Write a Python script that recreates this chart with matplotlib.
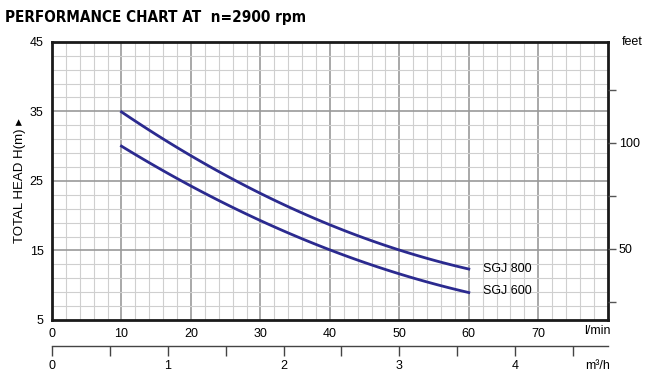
import matplotlib
matplotlib.use("Agg")
import matplotlib.pyplot as plt
import numpy as np

# --- data (flow in l/min, head in m) ---
flow = [10, 20, 30, 40, 50, 60]
head_sgj800 = [34.9, 28.7, 23.1, 18.7, 15.1, 12.3]
head_sgj600 = [30.0, 24.3, 19.2, 15.1, 11.7, 8.9]
labels = ["SGJ 800", "SGJ 600"]

M_TO_FT = 3.2808
LMIN_TO_M3H = 0.06

plt.rcParams['font.family'] = ['Liberation Sans', 'DejaVu Sans']
plt.rcParams['font.size'] = 9

fig = plt.figure(figsize=(6.5, 3.8), dpi=100)
ax = fig.add_axes([0.08, 0.158, 0.855, 0.732])

ax.set_xlim(0, 80)
ax.set_ylim(5, 45)

# grid: light minor every 2, darker major every 10
for v in np.arange(2, 80, 2):
    ax.axvline(v, color='#9a9a9a' if v % 10 == 0 else '#cfcfcf',
               lw=1.2 if v % 10 == 0 else 0.8, zorder=0)
for v in np.arange(7, 45, 2):
    ax.axhline(v, color='#9a9a9a' if (v - 5) % 10 == 0 else '#cfcfcf',
               lw=1.2 if (v - 5) % 10 == 0 else 0.8, zorder=0)

# curves (smooth through read points)
for h in (head_sgj800, head_sgj600):
    c = np.polyfit(flow, h, 2)
    xs = np.linspace(flow[0], flow[-1], 100)
    ax.plot(xs, np.polyval(c, xs), color='#2b2a8f', lw=2, zorder=3)

ax.text(flow[-1] + 2, head_sgj800[-1], labels[0], va='center', fontsize=9)
ax.text(flow[-1] + 2, head_sgj600[-1] + 0.2, labels[1], va='center', fontsize=9)

for s in ax.spines.values():
    s.set_linewidth(2)
    s.set_color('#1a1a1a')

ax.set_xticks(np.arange(0, 80, 10))
ax.set_yticks([5, 15, 25, 35, 45])
ax.tick_params(length=0, pad=6, labelsize=9)
ax.text(1.005, -0.04, "l/min", transform=ax.transAxes, ha='right', va='center', fontsize=9)

ax.set_ylabel("TOTAL HEAD H(m) \u25B8", fontsize=9.5, labelpad=3)

# feet axis on the right
axr = ax.twinx()
axr.set_ylim(5 * M_TO_FT, 45 * M_TO_FT)
axr.set_yticks([25, 50, 75, 100, 125])
axr.set_yticklabels(["", "50", "", "100", ""])
axr.tick_params(direction='out', length=6, width=1, color='#555555', pad=2, labelsize=9)
for s in axr.spines.values():
    s.set_visible(False)
ax.text(1.025, 1.0, "feet", transform=ax.transAxes, ha='left', va='center', fontsize=9)

# m3/h axis below
sec = ax.secondary_xaxis(-0.095, functions=(lambda x: x * LMIN_TO_M3H,
                                             lambda x: x / LMIN_TO_M3H))
ticks_m3h = np.arange(0, 5, 0.5)
sec.set_xticks(ticks_m3h)
sec.set_xticklabels([str(int(t)) if t == int(t) else "" for t in ticks_m3h])
sec.tick_params(direction='out', length=7, width=1, color='#444444', pad=3, labelsize=9)
sec.spines['bottom'].set_linewidth(1)
sec.spines['bottom'].set_color('#444444')
ax.text(1.005, -0.165, "m\u00b3/h", transform=ax.transAxes, ha='right', va='center', fontsize=9)

fig.text(0.008, 0.955, "PERFORMANCE CHART AT  n=2900 rpm", fontsize=11,
         fontweight='bold', fontstretch='condensed', family=['DejaVu Sans'],
         ha='left', va='center')

fig.savefig("out.png", dpi=100, facecolor='white')
